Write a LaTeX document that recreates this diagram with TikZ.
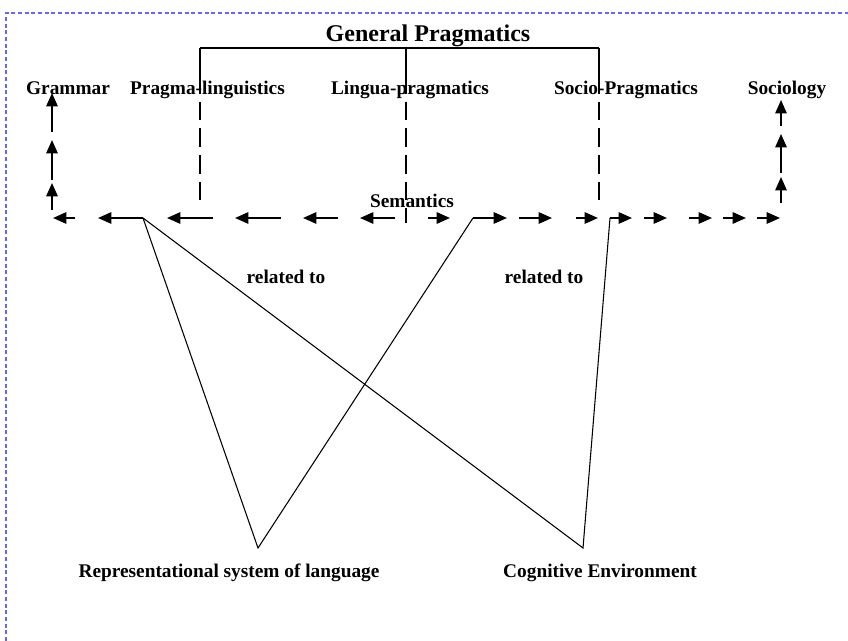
\documentclass[tikz,border=0pt]{standalone}
\usepackage{fontspec}
\setmainfont{Liberation Serif}
\usetikzlibrary{arrows.meta}

\tikzset{
  flow/.style={-{Triangle[length=10pt,width=8.5pt]}},
  term/.style={font=\fontsize{14.5}{16}\selectfont\bfseries,anchor=base,inner sep=0pt},
  longdash/.style={dash pattern=on 14pt off 6pt}
}

\begin{document}
\begin{tikzpicture}[x=0.75pt,y=-0.75pt,line width=1.3pt]
	\useasboundingbox (0,0) rectangle (848,641);
	%FRAME
	\draw[blue!60,line width=0.8pt,dash pattern=on 3pt off 2pt] (6,641)--(6,13)--(848,13);

	%TITLE AND BRACKET
	\node[term,font=\fontsize{18}{20}\selectfont\bfseries] (gp) at (428,42) {General Pragmatics};
	\coordinate (b1) at (200,48); \coordinate (b2) at (406,48); \coordinate (b3) at (599,48);
	\draw (b1)--(b3);
	\draw (b1)--++(0,27) coordinate (d1); \draw (b2)--++(0,27) coordinate (d2); \draw (b3)--++(0,27) coordinate (d3);
	\draw[longdash] (d1)--(200,203);
	\draw[longdash] (d2)--(406,223);
	\draw[longdash] (d3)--(599,207);

	%LABELS
	\node[term] (gram) at (68,95) {Grammar};
	\node[term] (plin) at (207.5,95) {Pragma-linguistics};
	\node[term] (lpra) at (410,95) {Lingua-pragmatics};
	\node[term] (spra) at (626,95) {Socio-Pragmatics};
	\node[term] (soci) at (787,95) {Sociology};
	\node[term] (sem) at (412,208) {Semantics};
	\node[term] (rel1) at (286,283) {related to};
	\node[term] (rel2) at (544,283) {related to};
	\node[term] (rep) at (229,577) {Representational system of language};
	\node[term] (cog) at (600,577) {Cognitive Environment};

	%ARROW ROW
	\foreach \t/\h in {75/53,143/98,213/167,281/235,338/303,395/360,
	                   428/450,473/507,519/552,576/598,610/632,644/667,689/712,723/746,757/780}
		\draw[flow] (\t,218)--(\h,218);
	\foreach \t/\h in {210/183,180/140,132/93}
		\draw[flow] (52,\t)--(52,\h);
	\foreach \t/\h in {203/177,173/134,126/100}
		\draw[flow] (781,\t)--(781,\h);

	%CROSSING LINES
	\coordinate (va) at (143,218); \coordinate (vb) at (473,218); \coordinate (vc) at (610,218);
	\coordinate (vr) at (258,548); \coordinate (vk) at (583,548);
	\draw[line width=0.8pt] (va)--(vr)--(vb);
	\draw[line width=0.8pt] (va)--(vk)--(vc);
\end{tikzpicture}
\end{document}
